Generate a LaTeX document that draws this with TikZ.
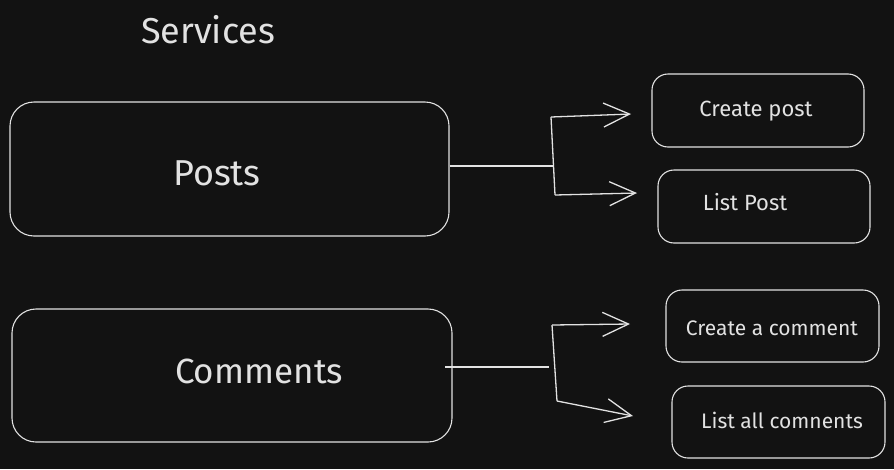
\documentclass[tikz,border=0pt]{standalone}
\usepackage{fontspec}
\setmainfont{Fira Sans}
\usetikzlibrary{arrows.meta}
\definecolor{bg}{HTML}{121212}
\definecolor{ink}{HTML}{E2E2E2}
\begin{document}
\begin{tikzpicture}[x=1pt,y=-1pt,
  bigbox/.style={draw=ink, line width=1.1pt, rounded corners=24pt, fill=bg, minimum width=439pt, minimum height=134pt, inner sep=0pt},
  smallbox/.style={draw=ink, line width=1.1pt, rounded corners=16pt, fill=bg, minimum width=212pt, minimum height=73pt, inner sep=0pt},
  bigtext/.style={text=ink, font=\fontsize{36}{42}\selectfont, inner sep=0pt},
  smalltext/.style={text=ink, font=\fontsize{22}{26}\selectfont, inner sep=0pt},
  conn/.style={draw=ink, line width=1.3pt},
  arr/.style={conn, -{Straight Barb[length=26pt,width=24pt,line width=1.3pt]}}
]
\fill[bg] (0,0) rectangle (894,469);
\useasboundingbox (0,0) rectangle (894,469);

% title
\node[bigtext] (title) at (208,30) {Services};

% big boxes
\node[bigbox] (posts) at (229.5,169) {};
\node[bigtext] (poststxt) at (217,173) {Posts};
\node[bigbox, minimum width=440pt, minimum height=133pt] (comments) at (232,375.5) {};
\node[bigtext, font=\fontsize{35}{41}\selectfont] (commentstxt) at (259,371) {Comments};

% small boxes
\node[smallbox] (cp) at (758,110.5) {};
\node[smalltext] (cptxt) at (756,111) {Create post};
\node[smallbox] (lp) at (764,206.5) {};
\node[smalltext] (lptxt) at (745,202) {List Post};
\node[smallbox, minimum width=213pt, minimum height=72pt] (cc) at (772.5,326) {};
\node[smalltext, font=\fontsize{21}{25}\selectfont] (cctxt) at (772,328) {Create a comment};
\node[smallbox, minimum width=213pt, minimum height=72pt] (lc) at (778.5,422) {};
\node[smalltext, font=\fontsize{21}{25}\selectfont] (lctxt) at (782,420) {List all comnents};

% posts connectors
\coordinate (j1) at (553,166);
\coordinate (j1t) at (551,117);
\coordinate (j1b) at (555,195);
\coordinate (a1) at (631,114);
\coordinate (a2) at (637,193);
\draw[conn] (posts.east |- j1) -- (j1);
\draw[conn] (j1t) -- (j1b);
\draw[arr] (j1t) -- (a1);
\draw[arr] (j1b) -- (a2);

% comments connectors
\coordinate (j2) at (549,367);
\coordinate (j2s) at (445,367);
\coordinate (j2t) at (552,325);
\coordinate (j2b) at (557,401);
\coordinate (a3) at (630,324);
\coordinate (a4) at (633,416);
\draw[conn] (j2s) -- (j2);
\draw[conn] (j2t) -- (j2b);
\draw[arr] (j2t) -- (a3);
\draw[arr] (j2b) -- (a4);
\end{tikzpicture}
\end{document}
